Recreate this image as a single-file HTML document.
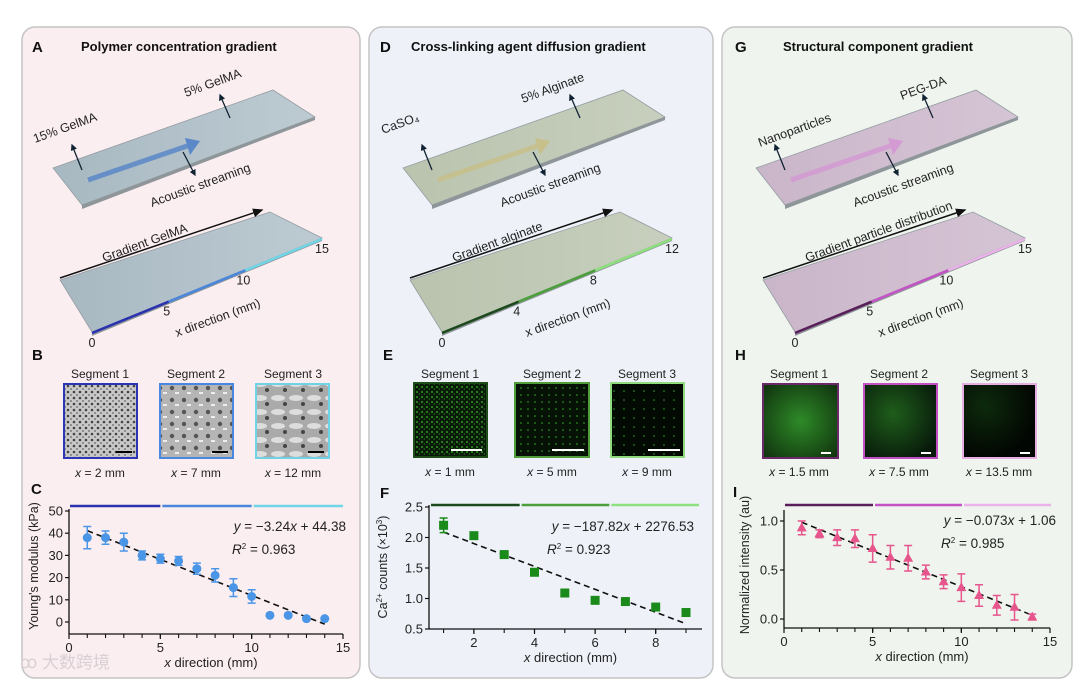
<!DOCTYPE html>
<html><head><meta charset="utf-8">
<style>
html,body{margin:0;padding:0;background:#fff;}
svg{display:block;font-family:"Liberation Sans","Noto Sans CJK SC",sans-serif;}
.t{font-size:12px;fill:#222}
.ttl{font-size:13px;font-weight:bold;fill:#111}
.lab{font-size:15px;font-weight:bold;fill:#111}
</style></head>
<body>
<svg id="fig" width="1080" height="686" viewBox="0 0 1080 686" xmlns="http://www.w3.org/2000/svg">
<defs>
<linearGradient id="slabA" x1="0" y1="0" x2="1" y2="0"><stop offset="0" stop-color="#9fb3bd"/><stop offset="1" stop-color="#b7c7cf"/></linearGradient>
<linearGradient id="slabD" x1="0" y1="0" x2="1" y2="0"><stop offset="0" stop-color="#b4bfa6"/><stop offset="1" stop-color="#c4ccb8"/></linearGradient>
<linearGradient id="slabG" x1="0" y1="0" x2="1" y2="0"><stop offset="0" stop-color="#c7afc6"/><stop offset="1" stop-color="#d3c0d2"/></linearGradient>
<pattern id="semB1" width="6" height="6" patternUnits="userSpaceOnUse"><rect width="6" height="6" fill="#c8c8c8"/><circle cx="2" cy="2" r="1.3" fill="#444"/><circle cx="5" cy="5" r="0.9" fill="#666"/></pattern>
<pattern id="semB2" width="12" height="12" patternUnits="userSpaceOnUse"><rect width="12" height="12" fill="#b5b5b5"/><circle cx="4" cy="4" r="2.2" fill="#555"/><rect x="7" y="8" width="4" height="2" fill="#eee"/></pattern>
<pattern id="semB3" width="18" height="14" patternUnits="userSpaceOnUse"><rect width="18" height="14" fill="#aaa"/><ellipse cx="8" cy="6" rx="7" ry="3" fill="#ddd"/><circle cx="15" cy="12" r="2" fill="#444"/></pattern>
<pattern id="dotE1" width="5" height="5" patternUnits="userSpaceOnUse"><rect width="5" height="5" fill="#0a1a08"/><circle cx="2" cy="2" r="0.9" fill="#3fbf2f"/><circle cx="4.3" cy="4" r="0.6" fill="#2a9a22"/></pattern>
<pattern id="dotE2" width="7" height="7" patternUnits="userSpaceOnUse"><rect width="7" height="7" fill="#061205"/><circle cx="3" cy="3" r="0.8" fill="#36b02a"/></pattern>
<pattern id="dotE3" width="10" height="9" patternUnits="userSpaceOnUse"><rect width="10" height="9" fill="#030903"/><circle cx="4" cy="4" r="0.8" fill="#30a026"/></pattern>
<radialGradient id="fl1" cx="0.5" cy="0.5" r="0.7"><stop offset="0" stop-color="#2e8a28"/><stop offset="1" stop-color="#0f300d"/></radialGradient>
<radialGradient id="fl2" cx="0.4" cy="0.4" r="0.7"><stop offset="0" stop-color="#1f5e1b"/><stop offset="1" stop-color="#07180a"/></radialGradient>
<radialGradient id="fl3" cx="0.3" cy="0.3" r="0.7"><stop offset="0" stop-color="#0d2a0c"/><stop offset="1" stop-color="#020602"/></radialGradient>
<marker id="ah" markerWidth="8" markerHeight="8" refX="6" refY="4" orient="auto"><path d="M0,1 L7,4 L0,7 z" fill="#111"/></marker>
<marker id="ahs" markerWidth="6" markerHeight="6" refX="4" refY="3" orient="auto"><path d="M0,0.5 L5,3 L0,5.5 z" fill="#123"/></marker>
</defs>

<rect x="22" y="27" width="338" height="651" rx="13" fill="#fbeef1" stroke="#c4c4c4" stroke-width="1.5"/>
<rect x="369" y="27" width="344" height="651" rx="13" fill="#eef2f8" stroke="#c4c4c4" stroke-width="1.5"/>
<rect x="722" y="27" width="350" height="651" rx="13" fill="#eff5ee" stroke="#c4c4c4" stroke-width="1.5"/>

<text class="lab" x="32" y="52">A</text>
<text class="ttl" x="81" y="51">Polymer concentration gradient</text>
<text class="lab" x="380" y="52">D</text>
<text class="ttl" x="411" y="51">Cross-linking agent diffusion gradient</text>
<text class="lab" x="735" y="52">G</text>
<text class="ttl" x="783" y="51">Structural component gradient</text>

<g id="illus"></g>

<g>
<text class="lab" x="32" y="360">B</text>
<text class="t" x="100" y="378" text-anchor="middle">Segment 1</text>
<text class="t" x="196" y="378" text-anchor="middle">Segment 2</text>
<text class="t" x="293" y="378" text-anchor="middle">Segment 3</text>
<rect x="64" y="384" width="73" height="74" fill="url(#semB1)" stroke="#2b35b5" stroke-width="2"/>
<rect x="160" y="384" width="73" height="74" fill="url(#semB2)" stroke="#4a87e0" stroke-width="2"/>
<rect x="256" y="384" width="73" height="74" fill="url(#semB3)" stroke="#6fd3e6" stroke-width="2"/>
<line x1="116" y1="452" x2="132" y2="452" stroke="#000" stroke-width="2"/>
<line x1="212" y1="452" x2="228" y2="452" stroke="#000" stroke-width="2"/>
<line x1="308" y1="452" x2="324" y2="452" stroke="#000" stroke-width="2"/>
<text class="t" x="100" y="477" text-anchor="middle"><tspan font-style="italic">x</tspan> = 2 mm</text>
<text class="t" x="196" y="477" text-anchor="middle"><tspan font-style="italic">x</tspan> = 7 mm</text>
<text class="t" x="293" y="477" text-anchor="middle"><tspan font-style="italic">x</tspan> = 12 mm</text>
</g>
<g>
<text class="lab" x="383" y="360">E</text>
<text class="t" x="450" y="378" text-anchor="middle">Segment 1</text>
<text class="t" x="552" y="378" text-anchor="middle">Segment 2</text>
<text class="t" x="647" y="378" text-anchor="middle">Segment 3</text>
<rect x="414" y="383" width="73" height="74" fill="url(#dotE1)" stroke="#1f4d1a" stroke-width="2"/>
<rect x="515" y="383" width="74" height="74" fill="url(#dotE2)" stroke="#4f9e3a" stroke-width="2"/>
<rect x="611" y="383" width="73" height="74" fill="url(#dotE3)" stroke="#8fdb7d" stroke-width="2"/>
<line x1="451" y1="450" x2="482" y2="450" stroke="#fff" stroke-width="2"/>
<line x1="552" y1="450" x2="584" y2="450" stroke="#fff" stroke-width="2"/>
<line x1="648" y1="450" x2="680" y2="450" stroke="#fff" stroke-width="2"/>
<text class="t" x="450" y="476" text-anchor="middle"><tspan font-style="italic">x</tspan> = 1 mm</text>
<text class="t" x="552" y="476" text-anchor="middle"><tspan font-style="italic">x</tspan> = 5 mm</text>
<text class="t" x="647" y="476" text-anchor="middle"><tspan font-style="italic">x</tspan> = 9 mm</text>
</g>
<g>
<text class="lab" x="735" y="360">H</text>
<text class="t" x="799" y="378" text-anchor="middle">Segment 1</text>
<text class="t" x="899" y="378" text-anchor="middle">Segment 2</text>
<text class="t" x="999" y="378" text-anchor="middle">Segment 3</text>
<rect x="763" y="384" width="75" height="74" fill="url(#fl1)" stroke="#6a2a6a" stroke-width="2"/>
<rect x="864" y="384" width="73" height="74" fill="url(#fl2)" stroke="#c44fc4" stroke-width="2"/>
<rect x="963" y="384" width="73" height="74" fill="url(#fl3)" stroke="#e7aee4" stroke-width="2"/>
<line x1="821" y1="453" x2="831" y2="453" stroke="#fff" stroke-width="2"/>
<line x1="921" y1="453" x2="931" y2="453" stroke="#fff" stroke-width="2"/>
<line x1="1020" y1="453" x2="1030" y2="453" stroke="#fff" stroke-width="2"/>
<text class="t" x="799" y="476" text-anchor="middle"><tspan font-style="italic">x</tspan> = 1.5 mm</text>
<text class="t" x="899" y="476" text-anchor="middle"><tspan font-style="italic">x</tspan> = 7.5 mm</text>
<text class="t" x="999" y="476" text-anchor="middle"><tspan font-style="italic">x</tspan> = 13.5 mm</text>
</g>

<g id="charts"></g>
<text x="20" y="668" font-size="17" fill="#d8d0d4">ꝏ 大数跨境</text>
</svg>

<script>
const xC = [1,2,3,4,5,6,7,8,9,10,11,12,13,14];
const yC = [38,38,36,30,28.5,27.5,24,21,15.5,11.5,3,3,1.5,1.5];
const eC = [5,3,4,2,2,2,2.5,3,4,3,0,0,0,0];
const xF = [1,2,3,4,5,6,7,8,9];
const yF = [2.2,2.03,1.72,1.43,1.09,0.97,0.95,0.86,0.77];
const eF = [0.12,0,0,0,0,0,0,0,0];
const xI = [1,2,3,4,5,6,7,8,9,10,11,12,13,14];
const yI = [0.93,0.87,0.83,0.82,0.72,0.63,0.62,0.48,0.38,0.32,0.24,0.14,0.12,0.02];
const eI = [0.07,0.04,0.08,0.09,0.14,0.12,0.13,0.07,0.07,0.14,0.11,0.1,0.13,0.03];
const fitC = [-3.24,44.38];
const fitF = [-187.82/1000,2276.53/1000];
const fitI = [-0.073,1.06];
const ticksXC = [0,5,10,15], ticksYC = [0,10,20,30,40,50];
const ticksXF = [2,4,6,8], ticksYF = [0.5,1.0,1.5,2.0,2.5];
const ticksXI = [0,5,10,15], ticksYI = [0.0,0.5,1.0];

const NS = "http://www.w3.org/2000/svg";
function mk(parent, tag, attrs, text){
  const e = document.createElementNS(NS, tag);
  for (const k in attrs) e.setAttribute(k, attrs[k]);
  if (text !== undefined) e.textContent = text;
  parent.appendChild(e);
  return e;
}
const charts = document.getElementById('charts');

function chart(cfg){
  const g = mk(charts, 'g', {});
  
  
  const sx = v => cfg.px0 + (v - cfg.x0) * (cfg.px1 - cfg.px0) / (cfg.x1 - cfg.x0);
  const sy = v => cfg.py0 + (v - cfg.y0) * (cfg.py1 - cfg.py0) / (cfg.y1 - cfg.y0);
  const segW = (cfg.barR - cfg.barL) / 3;
  cfg.barColors.forEach((c, i) => {
    const b = mk(g, 'line', {x1: cfg.barL + i*segW + (i?1:0), x2: cfg.barL + (i+1)*segW - 1, y1: cfg.barY, y2: cfg.barY, stroke: c, 'stroke-width': 2.5});
    
    
  });
  const yAx = mk(g, 'line', {x1: cfg.axX, x2: cfg.axX, y1: cfg.axTop, y2: cfg.axY, stroke: '#111', 'stroke-width': 1.3});
  
  
  const xAx = mk(g, 'line', {x1: cfg.axX, x2: cfg.axR, y1: cfg.axY, y2: cfg.axY, stroke: '#111', 'stroke-width': 1.3});
  
  
  cfg.xs.forEach(v => mk(g, 'line', {x1: sx(v), x2: sx(v), y1: cfg.axY, y2: cfg.axY+4, stroke: '#111', 'stroke-width': 1.1}));
  cfg.tx.forEach(v => {
    mk(g, 'line', {x1: sx(v), x2: sx(v), y1: cfg.axY, y2: cfg.axY+5, stroke: '#111', 'stroke-width': 1.2});
    const t = mk(g, 'text', {x: sx(v), y: cfg.axY + 18, 'text-anchor': 'middle', 'font-size': 13, fill: '#222'}, String(v));
    
    
  });
  cfg.ty.forEach(v => {
    mk(g, 'line', {x1: cfg.axX-4, x2: cfg.axX, y1: sy(v), y2: sy(v), stroke: '#111', 'stroke-width': 1.2});
    const t = mk(g, 'text', {x: cfg.axX - 6, y: sy(v) + 4.5, 'text-anchor': 'end', 'font-size': 13, fill: '#222'}, cfg.fmt(v));
    
    
  });
  const xt = mk(g, 'text', {x: (cfg.axX + cfg.axR)/2 + 5, y: cfg.axY + 33, 'text-anchor': 'middle', 'font-size': 13, fill: '#222'});
  mk(xt, 'tspan', {'font-style': 'italic'}, 'x');
  mk(xt, 'tspan', {}, ' direction (mm)');
  
  
  const yt = mk(g, 'text', {x: 0, y: 0, 'text-anchor': 'middle', 'font-size': 12.5, fill: '#222', transform: `translate(${cfg.ytX},${cfg.ytY}) rotate(-90)`});
  yt.innerHTML = cfg.ytitle;
  
  
  const xa = cfg.xs[0], xb = cfg.xs[cfg.xs.length-1];
  const fl = mk(g, 'line', {x1: sx(xa), y1: sy(cfg.fit[0]*xa + cfg.fit[1]), x2: sx(xb), y2: sy(cfg.fit[0]*xb + cfg.fit[1]), stroke: '#111', 'stroke-width': 1.6, 'stroke-dasharray': '6,4'});
  
  
  cfg.xs.forEach((v, i) => {
    const X = sx(v), Y = sy(cfg.ys[i]), e = cfg.es[i];
    if (e > 0) {
      const eb = mk(g, 'path', {d: `M${X},${sy(cfg.ys[i]-e)}V${sy(cfg.ys[i]+e)}M${X-4},${sy(cfg.ys[i]-e)}H${X+4}M${X-4},${sy(cfg.ys[i]+e)}H${X+4}`, stroke: cfg.color, 'stroke-width': 1.5, fill: 'none'});
      
      
    }
    let m;
    if (cfg.shape === 'circle') m = mk(g, 'circle', {cx: X, cy: Y, r: 4.5, fill: cfg.color});
    else if (cfg.shape === 'square') m = mk(g, 'rect', {x: X-4.5, y: Y-4.5, width: 9, height: 9, fill: cfg.color});
    else m = mk(g, 'path', {d: `M${X},${Y-5.5}L${X+5},${Y+3.5}L${X-5},${Y+3.5}Z`, fill: cfg.color});
    
    
  });
  const eq = mk(g, 'text', {x: cfg.eqX, y: cfg.eqY, 'text-anchor': 'end', 'font-size': 13.5, fill: '#222'});
  eq.innerHTML = cfg.eq;
  
  
  const r2 = mk(g, 'text', {x: cfg.r2X, y: cfg.eqY + 23, 'font-size': 13.5, fill: '#222'});
  r2.innerHTML = cfg.r2;
  
  
  const lb = mk(g, 'text', {x: cfg.lbX, y: cfg.lbY, 'font-size': 15, 'font-weight': 'bold', fill: '#111'}, cfg.letter);
  
  
}

chart({name:'chart-youngs-modulus', letter:'C', lbX:31, lbY:494,
  xs:xC, ys:yC, es:eC, fit:fitC, tx:ticksXC, ty:ticksYC, fmt:v=>String(v),
  x0:0, x1:15, px0:69, px1:343, y0:0, y1:50, py0:622, py1:511,
  axX:69, axR:343, axY:634, axTop:509, barL:70, barR:344, barY:506,
  barColors:['#2a32b0','#4a86dc','#6fd6e8'], color:'#4a95e6', shape:'circle',
  ytX:38, ytY:566, ytitle:"Young's modulus (kPa)",
  eqX:346, eqY:531, eq:'<tspan font-style="italic">y</tspan> = −3.24<tspan font-style="italic">x</tspan> + 44.38',
  r2X:232, r2:'<tspan font-style="italic">R</tspan><tspan font-size="8" dy="-5">2</tspan><tspan dy="5"> = 0.963</tspan>'});

chart({name:'chart-ca-counts', letter:'F', lbX:380, lbY:498,
  xs:xF, ys:yF, es:eF, fit:fitF, tx:ticksXF, ty:ticksYF, fmt:v=>v.toFixed(1),
  x0:0, x1:8, px0:413.3, px1:655.7, y0:0.5, y1:2.5, py0:629, py1:507,
  axX:429, axR:702, axY:629, axTop:505, barL:431, barR:700, barY:505,
  barColors:['#1c4a1c','#4ca03c','#8ee07e'], color:'#1a8a1a', shape:'square',
  ytX:387, ytY:567, ytitle:'Ca<tspan font-size="8" dy="-5">2+</tspan><tspan dy="5"> counts (×10</tspan><tspan font-size="8" dy="-5">3</tspan><tspan dy="5">)</tspan>',
  eqX:694, eqY:531, eq:'<tspan font-style="italic">y</tspan> = −187.82<tspan font-style="italic">x</tspan> + 2276.53',
  r2X:547, r2:'<tspan font-style="italic">R</tspan><tspan font-size="8" dy="-5">2</tspan><tspan dy="5"> = 0.923</tspan>'});

chart({name:'chart-normalized-intensity', letter:'I', lbX:733, lbY:497,
  xs:xI, ys:yI, es:eI, fit:fitI, tx:ticksXI, ty:ticksYI, fmt:v=>v.toFixed(1),
  x0:0, x1:15, px0:784, px1:1050, y0:0, y1:1, py0:619, py1:521,
  axX:784, axR:1050, axY:628, axTop:510, barL:785, barR:1052, barY:505,
  barColors:['#5a1f5a','#c453c6','#ecb2ea'], color:'#e6558c', shape:'tri',
  ytX:749, ytY:565, ytitle:'Normalized intensity (au)',
  eqX:1056, eqY:525, eq:'<tspan font-style="italic">y</tspan> = −0.073<tspan font-style="italic">x</tspan> + 1.06',
  r2X:941, r2:'<tspan font-style="italic">R</tspan><tspan font-size="8" dy="-5">2</tspan><tspan dy="5"> = 0.985</tspan>'});

const il = document.getElementById('illus');
function slab(g, pts, fill){
  mk(g, 'polygon', {points: pts.map(p=>p.join(',')).join(' '), fill: fill, stroke:'#8a9499', 'stroke-width':0.8, opacity:0.9});
  const [a,,c,d] = pts;
  mk(g, 'polygon', {points:`${d[0]},${d[1]} ${c[0]},${c[1]} ${c[0]},${c[1]+3} ${d[0]},${d[1]+4}`, fill:'#8f969a'});
}
function txt(g, x, y, s, rot, size){
  mk(g, 'text', {x:x, y:y, 'font-size':size||12.5, fill:'#222', transform:`rotate(${rot} ${x} ${y})`}, s);
}
function arrow(g, x1, y1, x2, y2){
  mk(g, 'line', {x1, y1, x2, y2, stroke:'#123', 'stroke-width':1.3, 'marker-end':'url(#ahs)'});
}
const panels = [
  {dx:0, fill:'url(#slabA)', bar:['#2a32b0','#4a86dc','#6fd6e8'], nums:['0','5','10','15'],
   t1:['15% GelMA',35,143,-20], t2:['5% GelMA',186,97,-20], grad:'Gradient GelMA', ac:'#5b88c8', name:'illustration-a'},
  {dx:350, fill:'url(#slabD)', bar:['#1c4a1c','#4ca03c','#8ee07e'], nums:['0','4','8','12'],
   t1:['CaSO₄',383,134,-20], t2:['5% Alginate',523,103,-20], grad:'Gradient alginate', ac:'#c7c08a', name:'illustration-d'},
  {dx:703, fill:'url(#slabG)', bar:['#5a1f5a','#c453c6','#ecb2ea'], nums:['0','5','10','15'],
   t1:['Nanoparticles',760,147,-20], t2:['PEG-DA',902,100,-20], grad:'Gradient particle distribution', ac:'#d49ad4', name:'illustration-g'}
];
panels.forEach(p => {
  const g = mk(il, 'g', {});
  
  
  const d = p.dx;
  slab(g, [[53+d,168],[273+d,90],[315+d,117],[82+d,205]], p.fill);
  slab(g, [[60+d,280],[270+d,212],[322+d,238],[92+d,332]], p.fill);
  mk(g, 'line', {x1:88+d, y1:180, x2:190+d, y2:145, stroke:p.ac, 'stroke-width':5, opacity:0.85});
  mk(g, 'polygon', {points:`${185+d},${138} ${200+d},${141} ${190+d},${155}`, fill:p.ac});
  arrow(g, 82+d, 170, 72+d, 145);
  arrow(g, 230+d, 118, 220+d, 95);
  arrow(g, 183+d, 152, 195+d, 175);
  txt(g, p.t1[1], p.t1[2], p.t1[0], p.t1[3]);
  txt(g, p.t2[1], p.t2[2], p.t2[0], p.t2[3]);
  txt(g, 152+d, 207, 'Acoustic streaming', -20);
  mk(g, 'line', {x1:60+d, y1:278, x2:262+d, y2:210, stroke:'#111', 'stroke-width':1.5, 'marker-end':'url(#ah)'});
  txt(g, 104+d, 262, p.grad, -20);
  const A=[92+d,333], B=[322+d,239];
  p.bar.forEach((c,i)=>{
    mk(g,'line',{x1:A[0]+(B[0]-A[0])*i/3, y1:A[1]+(B[1]-A[1])*i/3, x2:A[0]+(B[0]-A[0])*(i+1)/3, y2:A[1]+(B[1]-A[1])*(i+1)/3, stroke:c,'stroke-width':2.5});
  });
  p.nums.forEach((n,i)=>{
    mk(g,'text',{x:A[0]+(B[0]-A[0])*i/3 + (i===0?0:i===3?0:-2), y:A[1]+(B[1]-A[1])*i/3 + 14, 'font-size':12.5, fill:'#222', 'text-anchor':'middle'}, n);
  });
  txt(g, 177+d, 337, 'x direction (mm)', -20);
});
</script>
</body></html>
